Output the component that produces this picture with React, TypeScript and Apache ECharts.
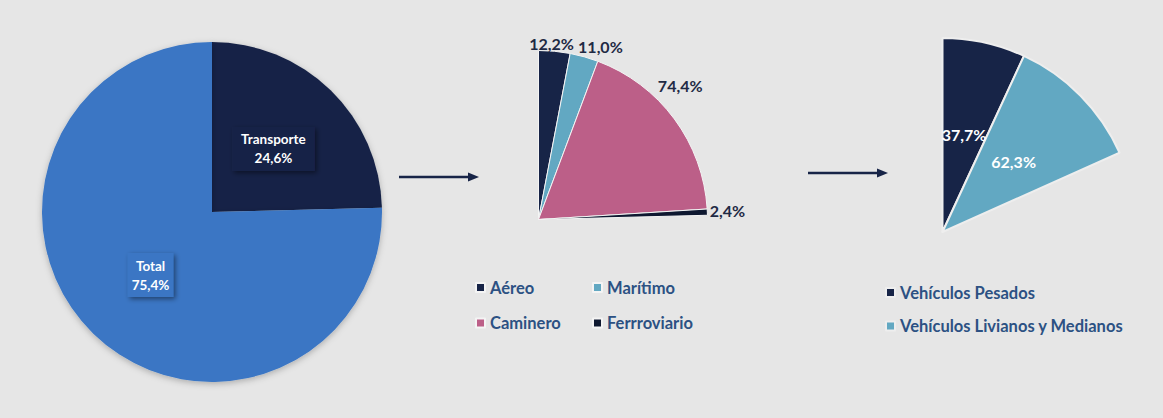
import React, { useEffect, useRef } from 'react';
import * as echarts from 'echarts';

// ---- data ----
const overviewNames = ['Transporte', 'Total'];
const overviewValues = [24.6, 75.4];
const modeNames = ['Aéreo', 'Marítimo', 'Caminero', 'Ferrroviario'];
const modeValues = [12.2, 11.0, 74.4, 2.4];
const roadNames = ['Vehículos Pesados', 'Vehículos Livianos y Medianos'];
const roadValues = [37.7, 62.3];

// ---- styles ----
const BG = '#E6E6E6';
const NAVY = '#172447';
const FONT = 'Lato, "Noto Sans", sans-serif';
const LEGEND_TEXT = '#2C5183';
const overviewColors = [NAVY, '#3A76C4'];
const overviewLabelPadding = [[3, 9], [3, 4]];
const modeColors = [NAVY, '#62A8C2', '#BC5F88', '#0E1830'];
// small label nudges (px) relative to the library-computed outside label anchor
const modeLabelNudge = [[-4, 4], [12, 5], [-14, -19], [0, -1]];
const roadColors = [NAVY, '#62A8C2'];

const pct = (v: number) => v.toFixed(1).replace('.', ',') + '%';
const sum = (a: number[]) => a.reduce((s, x) => s + x, 0);

function mkLegend(name: string, x: number, cy: number) {
  return {
    data: [name],
    left: x,
    top: cy - 9,
    padding: 0,
    itemWidth: 9,
    itemHeight: 9,
    itemGap: 0,
    icon: 'rect',
    selectedMode: false,
    textStyle: { color: LEGEND_TEXT, fontSize: 16.5, fontWeight: 'bold', fontFamily: FONT, lineHeight: 18 },
  };
}

export default function App() {
  const ref = useRef<HTMLDivElement>(null);

  useEffect(() => {
    document.body.style.margin = '0';
    if (!ref.current) return;
    const chart = echarts.init(ref.current, null, { renderer: 'svg' });

    const transportShare = overviewValues[0] / sum(overviewValues);
    const modeSpan = 360 * transportShare;
    const roadSpan = (modeSpan * modeValues[2]) / sum(modeValues);

    const outsideLayout = (params: any) => {
      const pts = params.labelLinePoints;
      if (!pts || pts.length < 2) return {};
      const p0 = pts[0];
      const p1 = pts[1];
      const vx = p1[0] - p0[0];
      const vy = p1[1] - p0[1];
      const len = Math.hypot(vx, vy) || 1;
      const ux = vx / len;
      const uy = vy / len;
      const w = params.labelRect ? params.labelRect.width : 40;
      const h = params.labelRect ? params.labelRect.height : 16;
      const d = 2 + (Math.abs(ux) * w) / 2 + (Math.abs(uy) * h) / 2;
      const nudge = modeLabelNudge[params.dataIndex] || [0, 0];
      return {
        x: p0[0] + ux * d + nudge[0],
        y: p0[1] + uy * d + nudge[1],
        align: 'center',
        verticalAlign: 'middle',
      };
    };

    chart.setOption({
      animation: false,
      backgroundColor: BG,
      legend: [
        mkLegend(modeNames[0], 475, 287.5),
        mkLegend(modeNames[1], 592, 287.5),
        mkLegend(modeNames[2], 475, 323),
        mkLegend(modeNames[3], 592, 323),
        mkLegend(roadNames[0], 885, 292.5),
        mkLegend(roadNames[1], 885, 326),
      ],
      graphic: [
        { type: 'line', shape: { x1: 399, y1: 177, x2: 470, y2: 177 }, style: { stroke: NAVY, lineWidth: 2.5 } },
        { type: 'polygon', shape: { points: [[468, 172.5], [479, 177], [468, 181.5]] }, style: { fill: NAVY } },
        { type: 'line', shape: { x1: 808, y1: 173, x2: 879, y2: 173 }, style: { stroke: NAVY, lineWidth: 2.5 } },
        { type: 'polygon', shape: { points: [[877, 168.5], [888, 173], [877, 177.5]] }, style: { fill: NAVY } },
      ],
      series: [
        {
          type: 'pie',
          center: [212, 212],
          radius: [0, 170],
          startAngle: 90,
          clockwise: true,
          avoidLabelOverlap: false,
          silent: true,
          itemStyle: { shadowBlur: 6, shadowColor: 'rgba(0,0,0,0.25)', shadowOffsetY: 2 },
          label: {
            show: true,
            position: 'inside',
            color: '#FFFFFF',
            fontFamily: FONT,
            fontWeight: 'bold',
            fontSize: 13.5,
            lineHeight: 19,
            shadowBlur: 5,
            shadowOffsetX: 2,
            shadowOffsetY: 2,
            shadowColor: 'rgba(0,0,0,0.45)',
            formatter: (p: any) => `${p.name}\n${pct(p.value)}`,
          },
          labelLine: { show: false },
          data: overviewNames.map((n, i) => ({
            name: n,
            value: overviewValues[i],
            itemStyle: { color: overviewColors[i] },
            label: { backgroundColor: overviewColors[i], padding: overviewLabelPadding[i] },
          })),
        },
        {
          type: 'pie',
          center: [538.5, 219.5],
          radius: [0, 169],
          startAngle: 90,
          endAngle: 90 - modeSpan,
          clockwise: true,
          avoidLabelOverlap: false,
          silent: true,
          itemStyle: { borderColor: '#F4F4F4', borderWidth: 1 },
          label: {
            show: true,
            position: 'outside',
            color: '#1F2A44',
            fontFamily: FONT,
            fontWeight: 'bold',
            fontSize: 16,
            formatter: (p: any) => pct(p.value),
          },
          labelLine: { show: true, length: 10, length2: 0, lineStyle: { opacity: 0, width: 0 } },
          labelLayout: outsideLayout,
          data: modeNames.map((n, i) => ({ name: n, value: modeValues[i], itemStyle: { color: modeColors[i] } })),
        },
        {
          type: 'pie',
          center: [942.5, 232],
          radius: [0, 194],
          startAngle: 90,
          endAngle: 90 - roadSpan,
          clockwise: true,
          avoidLabelOverlap: false,
          silent: true,
          itemStyle: { borderColor: '#EEEEEE', borderWidth: 2 },
          label: {
            show: true,
            position: 'inside',
            color: '#FFFFFF',
            fontFamily: FONT,
            fontWeight: 'bold',
            fontSize: 16,
            formatter: (p: any) => pct(p.value),
          },
          labelLine: { show: false },
          data: roadNames.map((n, i) => ({ name: n, value: roadValues[i], itemStyle: { color: roadColors[i] } })),
        },
      ],
    });

    return () => chart.dispose();
  }, []);

  return <div ref={ref} style={{ width: 1163, height: 418 }} />;
}
